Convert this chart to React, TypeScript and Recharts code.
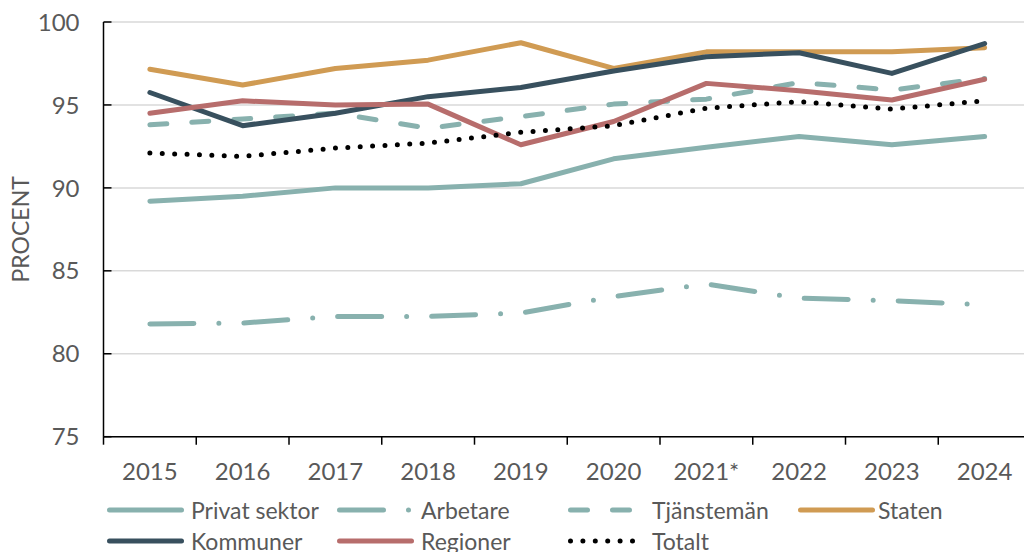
import React from 'react';
import { LineChart, Line, XAxis, YAxis, CartesianGrid, Legend } from 'recharts';

const categories = ['2015', '2016', '2017', '2018', '2019', '2020', '2021*', '2022', '2023', '2024'];
const privatSektor = [89.2, 89.5, 90.0, 90.0, 90.25, 91.75, 92.45, 93.1, 92.6, 93.1];
const arbetare = [81.8, 81.85, 82.25, 82.25, 82.45, 83.45, 84.2, 83.35, 83.2, 82.95];
const tjansteman = [93.8, 94.15, 94.5, 93.6, 94.3, 95.05, 95.35, 96.35, 95.9, 96.6];
const staten = [97.15, 96.2, 97.2, 97.7, 98.75, 97.2, 98.2, 98.2, 98.2, 98.45];
const kommuner = [95.75, 93.75, 94.5, 95.5, 96.05, 97.05, 97.9, 98.15, 96.9, 98.7];
const regioner = [94.5, 95.25, 95.0, 95.05, 92.6, 94.0, 96.3, 95.85, 95.3, 96.55];
const totalt = [92.1, 91.9, 92.4, 92.7, 93.35, 93.75, 94.8, 95.2, 94.75, 95.25];
const yTicks = [75, 80, 85, 90, 95, 100];

const TEAL = '#88b1ae';
const GOLD = '#d09b53';
const SLATE = '#38505e';
const ROSE = '#b76d6c';
const TXT = '#595959';
const FONT = 'Lato, sans-serif';

const SERIES = [
  { key: 'privat', name: 'Privat sektor', color: TEAL, dash: undefined as string | undefined, values: privatSektor },
  { key: 'arbetare', name: 'Arbetare', color: TEAL, dash: '44 25 0 25', values: arbetare },
  { key: 'tjansteman', name: 'Tjänstemän', color: TEAL, dash: '17 25', values: tjansteman },
  { key: 'staten', name: 'Staten', color: GOLD, dash: undefined, values: staten },
  { key: 'kommuner', name: 'Kommuner', color: SLATE, dash: undefined, values: kommuner },
  { key: 'regioner', name: 'Regioner', color: ROSE, dash: undefined, values: regioner },
  { key: 'totalt', name: 'Totalt', color: '#000000', dash: '0 12.4', values: totalt },
];

const data = categories.map((c, i) => {
  const row: Record<string, number | string> = { x: i + 0.5, cat: c };
  SERIES.forEach((s) => {
    row[s.key] = s.values[i];
  });
  return row;
});

const xTicks: number[] = [];
for (let i = 0; i <= categories.length * 2; i++) xTicks.push(i / 2);

const XTick = (props: any) => {
  const { x, y, payload } = props;
  const v = payload.value as number;
  if (Number.isInteger(v)) {
    return <line x1={x} x2={x} y1={y} y2={y + 8} stroke="#000" strokeWidth={1.5} />;
  }
  return (
    <text x={x} y={y + 43} textAnchor="middle" fill={TXT} fontSize={24} fontFamily={FONT}>
      {categories[Math.floor(v)]}
    </text>
  );
};

const YTick = (props: any) => {
  const { x, y, payload } = props;
  return (
    <g>
      <line x1={x} x2={x + 8} y1={y} y2={y} stroke="#000" strokeWidth={1.5} />
      <text x={x - 24} y={y} dy="0.36em" textAnchor="end" fill={TXT} fontSize={24} fontFamily={FONT}>
        {payload.value}
      </text>
    </g>
  );
};

const YLabel = (props: any) => {
  const vb = props.viewBox || { x: 0, y: 0, width: 0, height: 0 };
  const cx = vb.x + 21;
  const cy = vb.y + vb.height / 2;
  return (
    <text
      x={cx}
      y={cy}
      dy="0.36em"
      textAnchor="middle"
      fill={TXT}
      fontSize={23}
      fontFamily={FONT}
      transform={`rotate(-90 ${cx} ${cy})`}
    >
      PROCENT
    </text>
  );
};

const legendCols = [107, 337, 568, 798];
const legendTextGap = [7, 7, 7, 3];
const legendRowCenters = [15, 45.7];

const renderLegend = () => (
  <div style={{ position: 'relative', width: 1024, height: 56 }}>
    {SERIES.map((s, i) => {
      const row = Math.floor(i / 4);
      const col = i % 4;
      return (
        <div
          key={s.key}
          style={{
            position: 'absolute',
            left: legendCols[col],
            top: legendRowCenters[row] - 12,
            height: 24,
            display: 'flex',
            alignItems: 'center',
            whiteSpace: 'nowrap',
          }}
        >
          <svg width={77} height={24} style={{ display: 'block' }}>
            <line
              x1={2.5}
              x2={74.5}
              y1={12}
              y2={12}
              stroke={s.color}
              strokeWidth={5}
              strokeLinecap="round"
              strokeDasharray={s.dash}
            />
          </svg>
          <span
            style={{
              marginLeft: legendTextGap[col],
              fontFamily: FONT,
              fontSize: 23,
              color: TXT,
              lineHeight: '24px',
              display: 'block',
            }}
          >
            {s.name}
          </span>
        </div>
      );
    })}
  </div>
);

export default function App() {
  return (
    <div style={{ position: 'absolute', left: 0, top: 0, width: 1024, height: 552, overflow: 'hidden', background: '#fff' }}>
      <LineChart width={1040} height={552} data={data} margin={{ top: 22, right: 9, left: 0, bottom: 85.3 }}>
        <CartesianGrid vertical={false} stroke="#d9d9d9" strokeWidth={1.5} />
        <XAxis
          dataKey="x"
          type="number"
          domain={[0, categories.length]}
          ticks={xTicks}
          interval={0}
          height={30}
          tickLine={false}
          tickSize={0}
          tickMargin={0}
          axisLine={{ stroke: '#000', strokeWidth: 1.5 }}
          tick={<XTick />}
        />
        <YAxis
          type="number"
          domain={[75, 100]}
          ticks={yTicks}
          interval={0}
          width={103.5}
          tickLine={false}
          tickSize={0}
          tickMargin={0}
          axisLine={{ stroke: '#000', strokeWidth: 1.5 }}
          tick={<YTick />}
          label={<YLabel />}
        />
        <Legend
          layout="horizontal"
          verticalAlign="middle"
          align="center"
          wrapperStyle={{ top: 495, left: 0, width: 1024 }}
          content={renderLegend}
        />
        {SERIES.map((s) => (
          <Line
            key={s.key}
            dataKey={s.key}
            name={s.name}
            type="linear"
            stroke={s.color}
            strokeWidth={5}
            strokeLinecap="round"
            strokeLinejoin="round"
            strokeDasharray={s.dash}
            dot={false}
            activeDot={false}
            isAnimationActive={false}
          />
        ))}
      </LineChart>
    </div>
  );
}
